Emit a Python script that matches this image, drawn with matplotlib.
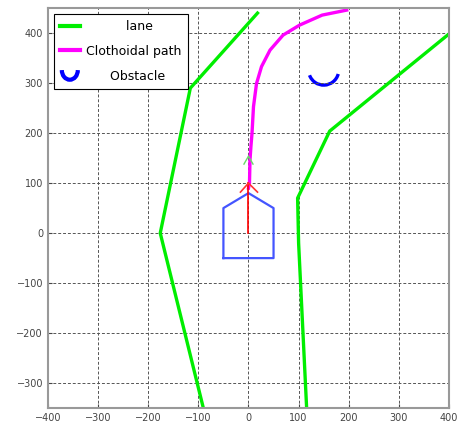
import matplotlib
matplotlib.use("Agg")
import matplotlib.pyplot as plt
from matplotlib.patches import Arc
from matplotlib.legend_handler import HandlerBase
from matplotlib.lines import Line2D
import numpy as np

# lane boundaries
left_lane_x = [18, -116, -176, -90]
left_lane_y = [440, 290, 0, -350]
right_lane_x = [402, 162, 98, 100, 116]
right_lane_y = [400, 204, 70, -20, -350]

# clothoidal path
path_x = [0, 2, 3, 5, 7, 10, 16, 26, 43, 69, 102, 147, 196]
path_y = [90, 100, 146, 175, 199, 253, 299, 333, 366, 396, 416, 436, 446]

# obstacle arc
obs_center = (150, 326)
obs_radius = 30
obs_theta = (200, 345)

# vehicle outline and heading
car_x = [-50, 50, 50, 0, -50, -50]
car_y = [-50, -50, 50, 80, 50, -50]
heading_x = [0, 0]
heading_y = [0, 100]
arrow_x = [-16, 0, 18]
arrow_y = [82, 100, 82]
target_x = [-9, 0, 9]
target_y = [138, 154, 138]


class ArcHandler(HandlerBase):
    def create_artists(self, legend, orig_handle, xdescent, ydescent,
                       width, height, fontsize, trans):
        cx = width / 2 - xdescent
        cy = height / 2 - ydescent + height * 0.6
        arc = Arc((cx, cy), width * 0.8, height * 2.2, theta1=180, theta2=360,
                  color='blue', lw=3, transform=trans)
        return [arc]


fig = plt.figure(figsize=(4.61, 4.26), dpi=100)
ax = fig.add_axes([0.104, 0.042, 0.870, 0.939])

ax.plot(left_lane_x, left_lane_y, color='#00ee00', lw=2.4)
ax.plot(right_lane_x, right_lane_y, color='#00ee00', lw=2.4)
ax.plot(path_x, path_y, color='#ff00ff', lw=2.4)
ax.add_patch(Arc(obs_center, 2 * obs_radius, 2 * obs_radius, theta1=obs_theta[0],
                 theta2=obs_theta[1], color='blue', lw=2.4))
ax.plot(car_x, car_y, color='#4455ff', lw=1.6)
ax.plot(heading_x, heading_y, color='red', lw=1.2)
ax.plot(arrow_x, arrow_y, color='#ff3333', lw=1.2)
ax.plot(target_x, target_y, color='#66dd66', lw=1.0)

ax.set_xlim(-400, 400)
ax.set_ylim(-350, 450)
ax.set_xticks(np.arange(-400, 401, 100))
ax.set_yticks(np.arange(-300, 401, 100))
ax.grid(True, color='#555555', linestyle=(0, (3, 2)), linewidth=0.7)
ax.tick_params(direction='in', labelsize=7, colors='#444444', length=3)
for s in ax.spines.values():
    s.set_color('#999999')
    s.set_linewidth(1.5)

handles = [Line2D([], [], color='#00ee00', lw=3),
           Line2D([], [], color='#ff00ff', lw=3),
           object()]
labels = ['          lane', 'Clothoidal path', '      Obstacle']
leg = ax.legend(handles, labels, loc='upper left', fontsize=9,
                handler_map={object: ArcHandler()}, fancybox=False,
                framealpha=1, edgecolor='black', borderaxespad=0.45,
                handlelength=1.6, labelspacing=0.95, borderpad=0.5,
                handletextpad=0.5)
leg.get_frame().set_linewidth(0.8)

fig.savefig('out.png', dpi=100)
